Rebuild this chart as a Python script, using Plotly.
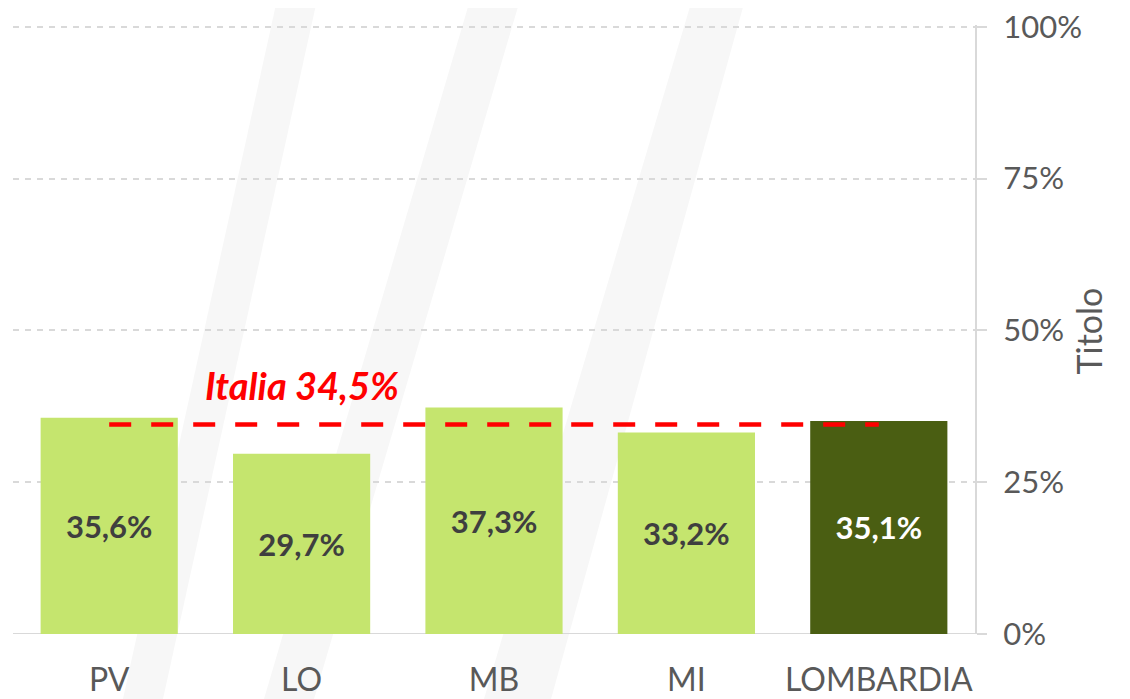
import plotly.graph_objects as go

categories = ["PV", "LO", "MB", "MI", "LOMBARDIA"]
values = [35.6, 29.7, 37.3, 33.2, 35.1]
labels = ["35,6%", "29,7%", "37,3%", "33,2%", "35,1%"]
bar_colors = ["#c5e56e", "#c5e56e", "#c5e56e", "#c5e56e", "#4a5e12"]
label_colors = ["#3f3f3f", "#3f3f3f", "#3f3f3f", "#3f3f3f", "#ffffff"]
italia_value = 34.5
italia_label = "Italia 34,5%"
y_ticks = [0, 25, 50, 75, 100]
y_ticktext = ["0%", "25%", "50%", "75%", "100%"]
axis_title = "Titolo"

FONT = "Lato"
W, H = 1130, 699
OFF = 8  # default page body margin
L, T = 13 - OFF, 25 - OFF
R = W - (975 - OFF)
B = H - (634 - OFF)
PW, PH = W - L - R, H - T - B


def px(x, y):
    """page pixel -> paper coords"""
    return (x - OFF - L) / PW, (H - B - (y - OFF)) / PH


fig = go.Figure()

# faint background watermark strokes (decorative)
strokes = [
    [(277, 0), (317, 0), (163, 699), (123, 699)],
    [(470, 0), (520, 0), (314, 699), (264, 699)],
    [(692, 0), (745, 0), (551, 699), (484, 699)],
]
for s in strokes:
    pts = [px(a, b) for a, b in s]
    path = "M " + " L ".join(f"{p[0]:.4f},{p[1]:.4f}" for p in pts) + " Z"
    fig.add_shape(type="path", path=path, xref="paper", yref="paper",
                  fillcolor="#f7f7f7", line=dict(width=0), layer="below")

fig.add_trace(go.Bar(
    x=list(range(len(categories))), y=values, text=labels,
    marker=dict(color=bar_colors, line=dict(width=0)),
    width=0.713,
    textposition="inside", insidetextanchor="middle",
    textfont=dict(family=FONT, size=31, color=label_colors, weight="bold"),
    textangle=0, hoverinfo="skip", showlegend=False,
))
fig.add_trace(go.Scatter(
    x=[0, 4], y=[italia_value, italia_value], mode="lines",
    line=dict(color="#ff0000", width=4.5, dash="22px,20px"),
    hoverinfo="skip", showlegend=False,
))
fig.add_annotation(
    x=1, y=41, xref="x", yref="y", text="<i><b>" + italia_label + "</b></i>",
    showarrow=False, font=dict(family=FONT, size=38, color="#ff0000"),
)
fig.add_annotation(
    x=px(1110, 0)[0], y=px(0, 331)[1], xref="paper", yref="paper",
    text=axis_title, textangle=-90, showarrow=False,
    font=dict(family=FONT, size=34, color="#595959"),
)

fig.update_layout(
    width=W, height=H,
    margin=dict(l=L, r=R, t=T, b=B),
    paper_bgcolor="white", plot_bgcolor="rgba(0,0,0,0)",
    font=dict(family=FONT),
    xaxis=dict(
        range=[-0.5, 4.5], tickmode="array", tickvals=list(range(len(categories))),
        ticktext=categories, showgrid=False, zeroline=False, showline=False,
        tickfont=dict(size=32, color="#595959"), ticks="", automargin=False,
        ticklabelstandoff=24, ticklabeloverflow="allow",
    ),
    yaxis=dict(
        side="right", range=[0, 100.3], tickmode="array", tickvals=y_ticks,
        ticktext=y_ticktext, showgrid=True, gridcolor="#d9d9d9", griddash="6px,6px",
        gridwidth=1.5,
        zeroline=False, showline=True, linecolor="#d9d9d9", linewidth=2,
        ticks="outside", ticklen=10, tickcolor="#d9d9d9", tickwidth=1.5,
        tickfont=dict(size=31, color="#595959"), automargin=False,
        ticklabelstandoff=10, ticklabeloverflow="allow",
    ),
)
# baseline across full plot width, extending to tick end
fig.add_shape(type="line", xref="paper", yref="y", x0=0, x1=(985 - 13) / PW, y0=0, y1=0,
              line=dict(color="#d9d9d9", width=2), layer="below")

fig.write_html("out.html")
